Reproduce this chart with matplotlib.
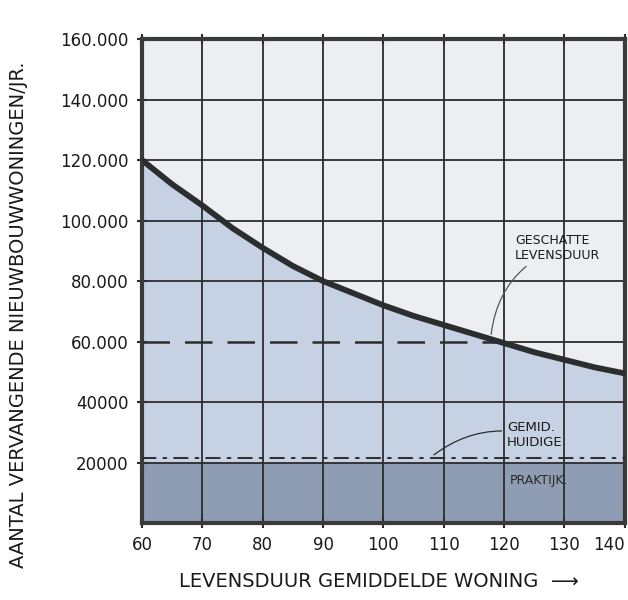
"""Hand-drawn style chart: replacement housing need versus dwelling lifetime."""

import matplotlib

matplotlib.use("Agg")
import matplotlib.pyplot as plt

# %% Data
lifetime = [60, 65, 70, 75, 80, 85, 90, 95, 100, 105, 110, 115, 120, 125, 130, 135, 140]
dwellings = [120000, 112000, 105000, 97500, 91000, 85000, 80000, 76000, 72000,
             68500, 65500, 62500, 59500, 56500, 54000, 51500, 49500]

x_ticks = [60, 70, 80, 90, 100, 110, 120, 130, 140]
x_tick_labels = ["60", "70", "80", "90", "100", "110", "120", "130", "140"]
y_ticks = [20000, 40000, 60000, 80000, 100000, 120000, 140000, 160000]
y_tick_labels = ["20000", "40000", "60.000", "80.000", "100.000", "120.000", "140.000", "160.000"]

estimated_level = 60000      # geschatte levensduur (dashed)
estimated_span = [60, 120]
practice_level = 21500       # gemiddelde huidige praktijk (dash-dot)
practice_band = 20000

# %% Colours
ink = "#2c2c2c"
bg_top = "#eceef1"
bg_blue = "#c6d2e3"
bg_band = "#8e9db3"

# %% Plot
fig = plt.figure(figsize=(6.28, 6.0), dpi=100)
ax = fig.add_axes([0.226, 0.128, 0.769, 0.807])

ax.set_xlim(60, 140)
ax.set_ylim(0, 160000)
ax.set_facecolor(bg_top)

ax.fill_between(lifetime, 0, dwellings, color=bg_blue, zorder=1)
ax.axhspan(0, practice_band, color=bg_band, zorder=1.5)

ax.set_xticks(x_ticks, x_tick_labels)
ax.set_yticks(y_ticks, y_tick_labels)

# grid: vertical lines everywhere, horizontal lines except where the dashed
# estimate replaces the 60.000 line left of the curve
ax.grid(True, axis="x", color=ink, linewidth=1.3, zorder=2)
for y in y_ticks:
    x_start = estimated_span[1] if y == estimated_level else 60
    ax.hlines(y, x_start, 140, color=ink, linewidth=1.3, zorder=2)

ax.plot(lifetime, dwellings, color="#2a2e2e", linewidth=4.2,
        solid_capstyle="round", zorder=4)
ax.plot(estimated_span, [estimated_level] * 2, color=ink, linewidth=1.8,
        linestyle=(0, (11, 6)), zorder=3)
ax.plot([60, 140], [practice_level] * 2, color=ink, linewidth=1.4,
        linestyle=(0, (7, 4, 1.5, 4)), dash_capstyle="round", zorder=3)

for side in ["left", "right", "top", "bottom"]:
    ax.spines[side].set_linewidth(3)
    ax.spines[side].set_color("#3a3a3a")

ax.tick_params(axis="both", direction="inout", length=7, width=1.5,
               color=ink, labelsize=12, labelcolor="#1a1a1a", pad=6)
ax.tick_params(top=True, right=False)
ax.tick_params(axis="x", labeltop=False)
last = ax.get_xticklabels()[-1]
last.set_horizontalalignment("right")

# annotations
ax.annotate("GESCHATTE\nLEVENSDUUR", xy=(117.8, 61500), xytext=(121.8, 91000),
            fontsize=9, color="#1a1a1a", ha="left", va="center",
            arrowprops=dict(arrowstyle="-", color="#555555", linewidth=0.9,
                            connectionstyle="arc3,rad=0.3"), zorder=5)
ax.annotate("GEMID.\nHUIDIGE", xy=(108, 22000), xytext=(120.5, 29000),
            fontsize=9.5, color="#1a1a1a", ha="left", va="center",
            arrowprops=dict(arrowstyle="-", color=ink, linewidth=0.9,
                            connectionstyle="arc3,rad=0.25"), zorder=5)
ax.text(121, 14000, "PRAKTIJK.", fontsize=9, color="#2a2a2a",
        ha="left", va="center", zorder=5)

ax.set_ylabel("AANTAL VERVANGENDE NIEUWBOUWWONINGEN/JR.", fontsize=14,
              color="#1a1a1a")
ax.yaxis.set_label_coords(-0.236, 0.43)
ax.set_xlabel("LEVENSDUUR GEMIDDELDE WONING  \u27f6", fontsize=14,
              color="#1a1a1a")
ax.xaxis.set_label_coords(0.49, -0.1)

fig.savefig("out.png", dpi=100, facecolor="white")
